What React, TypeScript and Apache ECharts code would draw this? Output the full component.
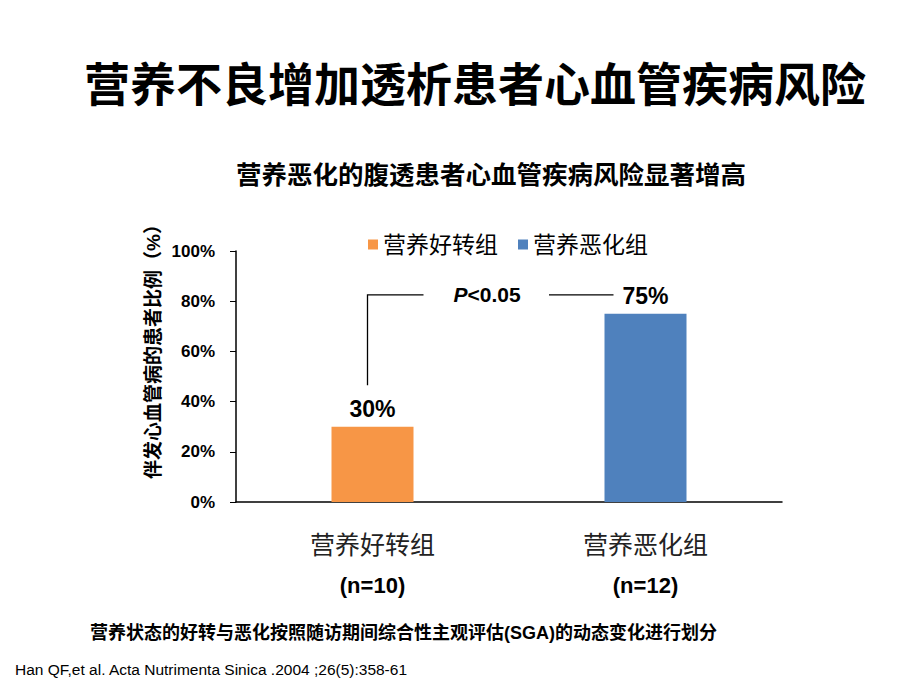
import React, { useEffect, useRef } from "react";
import * as echarts from "echarts";

const categories = ["营养好转组", "营养恶化组"];
const sampleSizes = ["(n=10)", "(n=12)"];
const improvedValues = [30, "-"];
const worsenedValues = ["-", 75];
const seriesNames = ["营养好转组", "营养恶化组"];
const yTicks = { min: 0, max: 100, interval: 20 };
const pLevel = 82.5;
const bracketBottom = 46.5;
const pText = "P<0.05";

const FONT = '"Liberation Sans", "Noto Sans CJK SC", sans-serif';

export default function App() {
  const ref = useRef<HTMLDivElement>(null);
  useEffect(() => {
    if (!ref.current) return;
    const chart = echarts.init(ref.current, null, { renderer: "svg" });
    const option: any = {
      animation: false,
      backgroundColor: "#ffffff",
      textStyle: { fontFamily: FONT },
      title: [
        {
          text: "营养不良增加透析患者心血管疾病风险",
          left: 470,
          textAlign: "center",
          top: 57,
          textStyle: { fontSize: 46, fontWeight: "bold", color: "#000", fontFamily: FONT },
        },
        {
          text: "营养恶化的腹透患者心血管疾病风险显著增高",
          left: 486,
          textAlign: "center",
          top: 157,
          textStyle: { fontSize: 25.5, fontWeight: "bold", color: "#000", fontFamily: FONT },
        },
      ],
      legend: {
        left: 363,
        top: 228,
        itemWidth: 10,
        itemHeight: 10,
        itemGap: 20,
        icon: "rect",
        textStyle: { fontSize: 23, color: "#000", fontFamily: FONT },
        data: seriesNames,
      },
      grid: { left: 236, top: 251, width: 546, height: 251 },
      xAxis: {
        type: "category",
        data: categories,
        axisTick: { show: false },
        axisLine: { lineStyle: { color: "#000", width: 1.5 } },
        axisLabel: {
          margin: 23,
          formatter: (v: string, i: number) => `{a|${v}}\n{b|${sampleSizes[i]}}`,
          rich: {
            a: { fontSize: 25, color: "#222", fontFamily: FONT, lineHeight: 40 },
            b: { fontSize: 22, fontWeight: "bold", color: "#000", fontFamily: FONT, lineHeight: 40 },
          },
        },
      },
      yAxis: {
        type: "value",
        min: yTicks.min,
        max: yTicks.max,
        interval: yTicks.interval,
        splitLine: { show: false },
        axisLine: { show: true, lineStyle: { color: "#000", width: 1.5 } },
        axisTick: { show: true, length: 6, lineStyle: { color: "#000" } },
        axisLabel: {
          formatter: "{value}%",
          fontSize: 17,
          fontWeight: "bold",
          color: "#000",
          margin: 21,
          fontFamily: FONT,
        },
      },
      series: [
        {
          name: seriesNames[0],
          type: "bar",
          stack: "g",
          barWidth: 82,
          data: improvedValues,
          itemStyle: { color: "#F79646" },
          label: {
            show: true,
            position: "top",
            distance: 6,
            formatter: "{c}%",
            fontSize: 23,
            fontWeight: "bold",
            color: "#000",
            fontFamily: FONT,
          },
        },
        {
          name: seriesNames[1],
          type: "bar",
          stack: "g",
          barWidth: 82,
          data: worsenedValues,
          itemStyle: { color: "#4F81BD" },
          label: {
            show: true,
            position: "top",
            distance: 6,
            formatter: "{c}%",
            fontSize: 23,
            fontWeight: "bold",
            color: "#000",
            fontFamily: FONT,
          },
        },
      ],
    };
    chart.setOption(option);

    const conv = (c: number, v: number) =>
      chart.convertToPixel({ xAxisIndex: 0, yAxisIndex: 0 }, [c, v]) as number[];
    const top0 = conv(0, pLevel);
    const bot0 = conv(0, bracketBottom);
    const top1 = conv(1, pLevel);
    const midX = (top0[0] + top1[0]) / 2 - 22;
    const lineStyle = { stroke: "#000", lineWidth: 1.3 };

    chart.setOption({
      graphic: [
        {
          type: "polyline",
          shape: { points: [[bot0[0] - 5, bot0[1]], [top0[0] - 5, top0[1]], [top0[0] + 51, top0[1]]] },
          style: { ...lineStyle, fill: "none" },
        },
        {
          type: "line",
          shape: { x1: midX + 62, y1: top1[1], x2: top1[0] - 32, y2: top1[1] },
          style: lineStyle,
        },
        {
          type: "text",
          x: midX,
          y: top0[1],
          style: {
            text: `{i|P}{n|${pText.slice(1)}}`,
            align: "center",
            verticalAlign: "middle",
            rich: {
              i: { fontSize: 21, fontWeight: "bold", fontStyle: "italic", fill: "#000", fontFamily: FONT },
              n: { fontSize: 21, fontWeight: "bold", fill: "#000", fontFamily: FONT },
            },
          },
        },
        {
          type: "text",
          x: 153,
          y: 347,
          rotation: Math.PI / 2,
          style: {
            text: "伴发心血管病的患者比例（%）",
            align: "center",
            verticalAlign: "middle",
            fontSize: 19,
            fontWeight: "bold",
            fill: "#000",
            fontFamily: FONT,
          },
        },
        {
          type: "text",
          x: 90,
          y: 633,
          style: {
            text: "营养状态的好转与恶化按照随访期间综合性主观评估(SGA)的动态变化进行划分",
            verticalAlign: "middle",
            fontSize: 18,
            fontWeight: "bold",
            fill: "#000",
            fontFamily: FONT,
          },
        },
        {
          type: "text",
          x: 15,
          y: 669,
          style: {
            text: "Han QF,et al. Acta Nutrimenta Sinica .2004 ;26(5):358-61",
            verticalAlign: "middle",
            fontSize: 15.5,
            fill: "#000",
            fontFamily: FONT,
          },
        },
      ],
    });

    return () => chart.dispose();
  }, []);
  return (
    <div
      ref={ref}
      style={{ position: "fixed", left: 0, top: 0, width: 920, height: 690 }}
    />
  );
}
